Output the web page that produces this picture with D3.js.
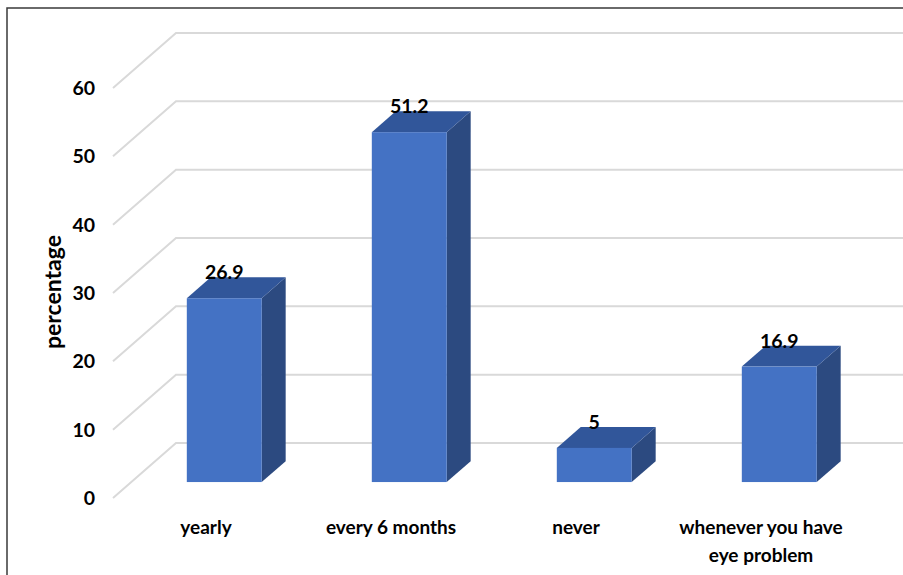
<!DOCTYPE html>
<html><head><meta charset="utf-8">
<script src="https://cdn.jsdelivr.net/npm/d3@7"></script>
<style>body{margin:0;background:#fff}svg{display:block}text{font-family:Lato,"Open Sans",sans-serif;font-weight:bold;fill:#000}</style>
</head><body>
<script>
const categories = ["yearly", "every 6 months", "never", "whenever you have eye problem"];
const values = [26.9, 51.2, 5, 16.9];
const yTicks = [0, 10, 20, 30, 40, 50, 60];
const yTitle = "percentage";

const W = 903, H = 575;
const svg = d3.select("body").append("svg").attr("width", W).attr("height", H);

// frame
svg.append("rect").attr("x", 7).attr("y", 8).attr("width", W + 10).attr("height", H + 10)
  .attr("fill", "none").attr("stroke", "#3a3a3a").attr("stroke-width", 1.5);

const y = d3.scaleLinear().domain([0, 60]).range([498, 88]);
const x = d3.scaleBand().domain(categories).range([113.5, 853.5]).padding(0);
const DX = 63, DY = -55;          // full depth offset
const t0 = 0.29, t1 = 0.67;       // bar depth placement
const bw = x.bandwidth() * 0.405;

// gridlines
const grid = svg.append("g").attr("stroke", "#d9d9d9").attr("stroke-width", 2).attr("fill", "none");
yTicks.forEach(v => {
  const fy = y(v);
  grid.append("path").attr("d", `M113,${fy}L${113 + DX},${fy + DY}L${W + 10},${fy + DY}`);
});

// tick labels
svg.append("g").selectAll("text").data(yTicks).join("text")
  .attr("x", 95).attr("y", d => y(d)).attr("dy", "0.36em").attr("text-anchor", "end")
  .attr("font-size", 19.5).text(d => d);

// axis title
svg.append("text").attr("transform", `translate(61,292) rotate(-90)`)
  .attr("text-anchor", "middle").attr("font-size", 23).text(yTitle);

// bars
const bars = svg.append("g");
categories.forEach((c, i) => {
  const v = values[i];
  const cx = x(c) + x.bandwidth() / 2;
  const x0 = cx - bw / 2 + t0 * DX, x1 = x0 + bw;
  const yb = y(0) + t0 * DY, yt = y(v) + t0 * DY;
  const ddx = (t1 - t0) * DX, ddy = (t1 - t0) * DY;
  // side
  bars.append("path").attr("d", `M${x1},${yt}L${x1 + ddx},${yt + ddy}L${x1 + ddx},${yb + ddy}L${x1},${yb}Z`).attr("fill", "#2c4a80");
  // top
  bars.append("path").attr("d", `M${x0},${yt}L${x0 + ddx},${yt + ddy}L${x1 + ddx},${yt + ddy}L${x1},${yt}Z`).attr("fill", "#31569a");
  // front
  bars.append("rect").attr("x", x0).attr("y", yt).attr("width", bw).attr("height", yb - yt).attr("fill", "#4472c4");
  // value label
  bars.append("text").attr("x", (x0 + x1) / 2).attr("y", yt + ddy + 2).attr("text-anchor", "middle")
    .attr("font-size", 19.5).text(v);
});

// category labels
const lines = {"whenever you have eye problem": ["whenever you have", "eye problem"]};
categories.forEach(c => {
  const cx = x(c) + x.bandwidth() / 2;
  const ls = lines[c] || [c];
  ls.forEach((l, j) => {
    svg.append("text").attr("x", cx).attr("y", 534 + j * 28).attr("text-anchor", "middle")
      .attr("font-size", 19).text(l);
  });
});
</script>
</body></html>
